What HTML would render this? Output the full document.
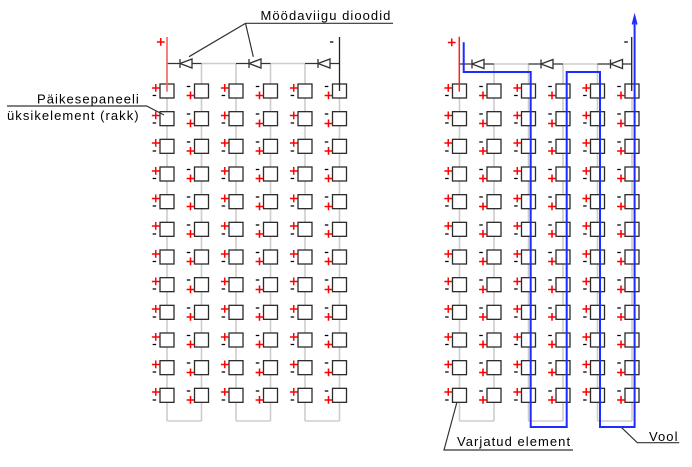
<!DOCTYPE html>
<html><head><meta charset="utf-8"><style>
html,body{margin:0;padding:0;background:#fff;}
svg{display:block;}
.g{stroke:#cdcdcd;stroke-width:1.6;fill:none;}
.k{stroke:#333;stroke-width:1.3;fill:none;}
.d{stroke:#333;stroke-width:1.3;fill:#fff;}
.row rect{fill:#fff;stroke:#2b2b2b;stroke-width:1.3;}
.p{fill:#ff0000;stroke:#ff0000;stroke-width:0.45;font-family:"Liberation Sans",Arial,sans-serif;font-size:15px;text-anchor:middle;}
.m{fill:#000;stroke:#000;stroke-width:0.3;font-family:"Liberation Sans",Arial,sans-serif;font-size:13px;text-anchor:middle;}
.lbl{fill:#000;font-family:"Liberation Sans",Arial,sans-serif;font-size:13px;letter-spacing:1.05px;}
.ld{stroke:#333;stroke-width:1.2;fill:none;}
</style></head><body>
<svg width="692" height="467" viewBox="0 0 692 467" xmlns="http://www.w3.org/2000/svg">
<!-- LEFT PANEL gray wiring -->
<line class="g" x1="167" y1="84" x2="167" y2="421"/>
<line class="g" x1="201.5" y1="63.5" x2="201.5" y2="421"/>
<line class="g" x1="236" y1="63.5" x2="236" y2="421"/>
<line class="g" x1="270.5" y1="63.5" x2="270.5" y2="421"/>
<line class="g" x1="305" y1="63.5" x2="305" y2="421"/>
<line class="g" x1="339.5" y1="84" x2="339.5" y2="421"/>
<line class="g" x1="201.5" y1="63.5" x2="236" y2="63.5"/>
<line class="g" x1="270.5" y1="63.5" x2="305" y2="63.5"/>
<line class="g" x1="167" y1="421" x2="201.5" y2="421"/>
<line class="g" x1="236" y1="421" x2="270.5" y2="421"/>
<line class="g" x1="305" y1="421" x2="339.5" y2="421"/>
<!-- RIGHT PANEL gray wiring -->
<line class="g" x1="459.5" y1="84" x2="459.5" y2="421"/>
<line class="g" x1="494" y1="64" x2="494" y2="421"/>
<line class="g" x1="528.5" y1="64" x2="528.5" y2="421"/>
<line class="g" x1="563" y1="64" x2="563" y2="421"/>
<line class="g" x1="597.5" y1="64" x2="597.5" y2="421"/>
<line class="g" x1="632" y1="84" x2="632" y2="421"/>
<line class="g" x1="494" y1="64" x2="528.5" y2="64"/>
<line class="g" x1="563" y1="64" x2="597.5" y2="64"/>
<line class="g" x1="459.5" y1="421" x2="494" y2="421"/>
<line class="g" x1="528.5" y1="421" x2="563" y2="421"/>
<line class="g" x1="597.5" y1="421" x2="632" y2="421"/>

<!-- Diodes left -->
<line class="k" x1="167" y1="63.5" x2="201.5" y2="63.5"/>
<line class="k" x1="236" y1="63.5" x2="270.5" y2="63.5"/>
<line class="k" x1="305" y1="63.5" x2="339.5" y2="63.5"/>
<polygon class="d" points="180,63.5 192,59 192,68"/><line class="k" x1="180" y1="59" x2="180" y2="68"/>
<polygon class="d" points="249,63.5 261,59 261,68"/><line class="k" x1="249" y1="59" x2="249" y2="68"/>
<polygon class="d" points="318,63.5 330,59 330,68"/><line class="k" x1="318" y1="59" x2="318" y2="68"/>
<!-- Diodes right -->
<line class="k" x1="459.5" y1="64" x2="494" y2="64"/>
<line class="k" x1="528.5" y1="64" x2="563" y2="64"/>
<line class="k" x1="597.5" y1="64" x2="632" y2="64"/>
<polygon class="d" points="472,64 484,59.5 484,68.5"/><line class="k" x1="472" y1="59.5" x2="472" y2="68.5"/>
<polygon class="d" points="541,64 553,59.5 553,68.5"/><line class="k" x1="541" y1="59.5" x2="541" y2="68.5"/>
<polygon class="d" points="610.5,64 622.5,59.5 622.5,68.5"/><line class="k" x1="610.5" y1="59.5" x2="610.5" y2="68.5"/>

<!-- Cells rows -->
<g class="row" transform="translate(0,84)">
<rect x="160" width="14" height="14"/><text class="p" x="155.7" y="8.8">+</text><text class="m" x="154.4" y="15">-</text>
<rect x="194.5" width="14" height="14"/><text class="m" x="188.5" y="6">-</text><text class="p" x="190.5" y="16.6">+</text>
<rect x="229" width="14" height="14"/><text class="p" x="224.7" y="8.8">+</text><text class="m" x="223.4" y="15">-</text>
<rect x="263.5" width="14" height="14"/><text class="m" x="257.5" y="6">-</text><text class="p" x="259.5" y="16.6">+</text>
<rect x="298" width="14" height="14"/><text class="p" x="293.7" y="8.8">+</text><text class="m" x="292.4" y="15">-</text>
<rect x="332.5" width="14" height="14"/><text class="m" x="326.5" y="6">-</text><text class="p" x="328.5" y="16.6">+</text>
<rect x="452.5" width="14" height="14"/><text class="p" x="448.2" y="8.8">+</text><text class="m" x="446.9" y="15">-</text>
<rect x="487" width="14" height="14"/><text class="m" x="481" y="6">-</text><text class="p" x="483" y="16.6">+</text>
<rect x="521.5" width="14" height="14"/><text class="p" x="517.2" y="8.8">+</text><text class="m" x="515.9" y="15">-</text>
<rect x="556" width="14" height="14"/><text class="m" x="550" y="6">-</text><text class="p" x="552" y="16.6">+</text>
<rect x="590.5" width="14" height="14"/><text class="p" x="586.2" y="8.8">+</text><text class="m" x="584.9" y="15">-</text>
<rect x="625" width="14" height="14"/><text class="m" x="619" y="6">-</text><text class="p" x="621" y="16.6">+</text>
</g>
<g class="row" transform="translate(0,111.67)">
<rect x="160" width="14" height="14"/><text class="p" x="155.7" y="8.8">+</text><text class="m" x="154.4" y="15">-</text>
<rect x="194.5" width="14" height="14"/><text class="m" x="188.5" y="6">-</text><text class="p" x="190.5" y="16.6">+</text>
<rect x="229" width="14" height="14"/><text class="p" x="224.7" y="8.8">+</text><text class="m" x="223.4" y="15">-</text>
<rect x="263.5" width="14" height="14"/><text class="m" x="257.5" y="6">-</text><text class="p" x="259.5" y="16.6">+</text>
<rect x="298" width="14" height="14"/><text class="p" x="293.7" y="8.8">+</text><text class="m" x="292.4" y="15">-</text>
<rect x="332.5" width="14" height="14"/><text class="m" x="326.5" y="6">-</text><text class="p" x="328.5" y="16.6">+</text>
<rect x="452.5" width="14" height="14"/><text class="p" x="448.2" y="8.8">+</text><text class="m" x="446.9" y="15">-</text>
<rect x="487" width="14" height="14"/><text class="m" x="481" y="6">-</text><text class="p" x="483" y="16.6">+</text>
<rect x="521.5" width="14" height="14"/><text class="p" x="517.2" y="8.8">+</text><text class="m" x="515.9" y="15">-</text>
<rect x="556" width="14" height="14"/><text class="m" x="550" y="6">-</text><text class="p" x="552" y="16.6">+</text>
<rect x="590.5" width="14" height="14"/><text class="p" x="586.2" y="8.8">+</text><text class="m" x="584.9" y="15">-</text>
<rect x="625" width="14" height="14"/><text class="m" x="619" y="6">-</text><text class="p" x="621" y="16.6">+</text>
</g>
<g class="row" transform="translate(0,139.33)">
<rect x="160" width="14" height="14"/><text class="p" x="155.7" y="8.8">+</text><text class="m" x="154.4" y="15">-</text>
<rect x="194.5" width="14" height="14"/><text class="m" x="188.5" y="6">-</text><text class="p" x="190.5" y="16.6">+</text>
<rect x="229" width="14" height="14"/><text class="p" x="224.7" y="8.8">+</text><text class="m" x="223.4" y="15">-</text>
<rect x="263.5" width="14" height="14"/><text class="m" x="257.5" y="6">-</text><text class="p" x="259.5" y="16.6">+</text>
<rect x="298" width="14" height="14"/><text class="p" x="293.7" y="8.8">+</text><text class="m" x="292.4" y="15">-</text>
<rect x="332.5" width="14" height="14"/><text class="m" x="326.5" y="6">-</text><text class="p" x="328.5" y="16.6">+</text>
<rect x="452.5" width="14" height="14"/><text class="p" x="448.2" y="8.8">+</text><text class="m" x="446.9" y="15">-</text>
<rect x="487" width="14" height="14"/><text class="m" x="481" y="6">-</text><text class="p" x="483" y="16.6">+</text>
<rect x="521.5" width="14" height="14"/><text class="p" x="517.2" y="8.8">+</text><text class="m" x="515.9" y="15">-</text>
<rect x="556" width="14" height="14"/><text class="m" x="550" y="6">-</text><text class="p" x="552" y="16.6">+</text>
<rect x="590.5" width="14" height="14"/><text class="p" x="586.2" y="8.8">+</text><text class="m" x="584.9" y="15">-</text>
<rect x="625" width="14" height="14"/><text class="m" x="619" y="6">-</text><text class="p" x="621" y="16.6">+</text>
</g>
<g class="row" transform="translate(0,167)">
<rect x="160" width="14" height="14"/><text class="p" x="155.7" y="8.8">+</text><text class="m" x="154.4" y="15">-</text>
<rect x="194.5" width="14" height="14"/><text class="m" x="188.5" y="6">-</text><text class="p" x="190.5" y="16.6">+</text>
<rect x="229" width="14" height="14"/><text class="p" x="224.7" y="8.8">+</text><text class="m" x="223.4" y="15">-</text>
<rect x="263.5" width="14" height="14"/><text class="m" x="257.5" y="6">-</text><text class="p" x="259.5" y="16.6">+</text>
<rect x="298" width="14" height="14"/><text class="p" x="293.7" y="8.8">+</text><text class="m" x="292.4" y="15">-</text>
<rect x="332.5" width="14" height="14"/><text class="m" x="326.5" y="6">-</text><text class="p" x="328.5" y="16.6">+</text>
<rect x="452.5" width="14" height="14"/><text class="p" x="448.2" y="8.8">+</text><text class="m" x="446.9" y="15">-</text>
<rect x="487" width="14" height="14"/><text class="m" x="481" y="6">-</text><text class="p" x="483" y="16.6">+</text>
<rect x="521.5" width="14" height="14"/><text class="p" x="517.2" y="8.8">+</text><text class="m" x="515.9" y="15">-</text>
<rect x="556" width="14" height="14"/><text class="m" x="550" y="6">-</text><text class="p" x="552" y="16.6">+</text>
<rect x="590.5" width="14" height="14"/><text class="p" x="586.2" y="8.8">+</text><text class="m" x="584.9" y="15">-</text>
<rect x="625" width="14" height="14"/><text class="m" x="619" y="6">-</text><text class="p" x="621" y="16.6">+</text>
</g>
<g class="row" transform="translate(0,194.67)">
<rect x="160" width="14" height="14"/><text class="p" x="155.7" y="8.8">+</text><text class="m" x="154.4" y="15">-</text>
<rect x="194.5" width="14" height="14"/><text class="m" x="188.5" y="6">-</text><text class="p" x="190.5" y="16.6">+</text>
<rect x="229" width="14" height="14"/><text class="p" x="224.7" y="8.8">+</text><text class="m" x="223.4" y="15">-</text>
<rect x="263.5" width="14" height="14"/><text class="m" x="257.5" y="6">-</text><text class="p" x="259.5" y="16.6">+</text>
<rect x="298" width="14" height="14"/><text class="p" x="293.7" y="8.8">+</text><text class="m" x="292.4" y="15">-</text>
<rect x="332.5" width="14" height="14"/><text class="m" x="326.5" y="6">-</text><text class="p" x="328.5" y="16.6">+</text>
<rect x="452.5" width="14" height="14"/><text class="p" x="448.2" y="8.8">+</text><text class="m" x="446.9" y="15">-</text>
<rect x="487" width="14" height="14"/><text class="m" x="481" y="6">-</text><text class="p" x="483" y="16.6">+</text>
<rect x="521.5" width="14" height="14"/><text class="p" x="517.2" y="8.8">+</text><text class="m" x="515.9" y="15">-</text>
<rect x="556" width="14" height="14"/><text class="m" x="550" y="6">-</text><text class="p" x="552" y="16.6">+</text>
<rect x="590.5" width="14" height="14"/><text class="p" x="586.2" y="8.8">+</text><text class="m" x="584.9" y="15">-</text>
<rect x="625" width="14" height="14"/><text class="m" x="619" y="6">-</text><text class="p" x="621" y="16.6">+</text>
</g>
<g class="row" transform="translate(0,222.33)">
<rect x="160" width="14" height="14"/><text class="p" x="155.7" y="8.8">+</text><text class="m" x="154.4" y="15">-</text>
<rect x="194.5" width="14" height="14"/><text class="m" x="188.5" y="6">-</text><text class="p" x="190.5" y="16.6">+</text>
<rect x="229" width="14" height="14"/><text class="p" x="224.7" y="8.8">+</text><text class="m" x="223.4" y="15">-</text>
<rect x="263.5" width="14" height="14"/><text class="m" x="257.5" y="6">-</text><text class="p" x="259.5" y="16.6">+</text>
<rect x="298" width="14" height="14"/><text class="p" x="293.7" y="8.8">+</text><text class="m" x="292.4" y="15">-</text>
<rect x="332.5" width="14" height="14"/><text class="m" x="326.5" y="6">-</text><text class="p" x="328.5" y="16.6">+</text>
<rect x="452.5" width="14" height="14"/><text class="p" x="448.2" y="8.8">+</text><text class="m" x="446.9" y="15">-</text>
<rect x="487" width="14" height="14"/><text class="m" x="481" y="6">-</text><text class="p" x="483" y="16.6">+</text>
<rect x="521.5" width="14" height="14"/><text class="p" x="517.2" y="8.8">+</text><text class="m" x="515.9" y="15">-</text>
<rect x="556" width="14" height="14"/><text class="m" x="550" y="6">-</text><text class="p" x="552" y="16.6">+</text>
<rect x="590.5" width="14" height="14"/><text class="p" x="586.2" y="8.8">+</text><text class="m" x="584.9" y="15">-</text>
<rect x="625" width="14" height="14"/><text class="m" x="619" y="6">-</text><text class="p" x="621" y="16.6">+</text>
</g>
<g class="row" transform="translate(0,250)">
<rect x="160" width="14" height="14"/><text class="p" x="155.7" y="8.8">+</text><text class="m" x="154.4" y="15">-</text>
<rect x="194.5" width="14" height="14"/><text class="m" x="188.5" y="6">-</text><text class="p" x="190.5" y="16.6">+</text>
<rect x="229" width="14" height="14"/><text class="p" x="224.7" y="8.8">+</text><text class="m" x="223.4" y="15">-</text>
<rect x="263.5" width="14" height="14"/><text class="m" x="257.5" y="6">-</text><text class="p" x="259.5" y="16.6">+</text>
<rect x="298" width="14" height="14"/><text class="p" x="293.7" y="8.8">+</text><text class="m" x="292.4" y="15">-</text>
<rect x="332.5" width="14" height="14"/><text class="m" x="326.5" y="6">-</text><text class="p" x="328.5" y="16.6">+</text>
<rect x="452.5" width="14" height="14"/><text class="p" x="448.2" y="8.8">+</text><text class="m" x="446.9" y="15">-</text>
<rect x="487" width="14" height="14"/><text class="m" x="481" y="6">-</text><text class="p" x="483" y="16.6">+</text>
<rect x="521.5" width="14" height="14"/><text class="p" x="517.2" y="8.8">+</text><text class="m" x="515.9" y="15">-</text>
<rect x="556" width="14" height="14"/><text class="m" x="550" y="6">-</text><text class="p" x="552" y="16.6">+</text>
<rect x="590.5" width="14" height="14"/><text class="p" x="586.2" y="8.8">+</text><text class="m" x="584.9" y="15">-</text>
<rect x="625" width="14" height="14"/><text class="m" x="619" y="6">-</text><text class="p" x="621" y="16.6">+</text>
</g>
<g class="row" transform="translate(0,277.67)">
<rect x="160" width="14" height="14"/><text class="p" x="155.7" y="8.8">+</text><text class="m" x="154.4" y="15">-</text>
<rect x="194.5" width="14" height="14"/><text class="m" x="188.5" y="6">-</text><text class="p" x="190.5" y="16.6">+</text>
<rect x="229" width="14" height="14"/><text class="p" x="224.7" y="8.8">+</text><text class="m" x="223.4" y="15">-</text>
<rect x="263.5" width="14" height="14"/><text class="m" x="257.5" y="6">-</text><text class="p" x="259.5" y="16.6">+</text>
<rect x="298" width="14" height="14"/><text class="p" x="293.7" y="8.8">+</text><text class="m" x="292.4" y="15">-</text>
<rect x="332.5" width="14" height="14"/><text class="m" x="326.5" y="6">-</text><text class="p" x="328.5" y="16.6">+</text>
<rect x="452.5" width="14" height="14"/><text class="p" x="448.2" y="8.8">+</text><text class="m" x="446.9" y="15">-</text>
<rect x="487" width="14" height="14"/><text class="m" x="481" y="6">-</text><text class="p" x="483" y="16.6">+</text>
<rect x="521.5" width="14" height="14"/><text class="p" x="517.2" y="8.8">+</text><text class="m" x="515.9" y="15">-</text>
<rect x="556" width="14" height="14"/><text class="m" x="550" y="6">-</text><text class="p" x="552" y="16.6">+</text>
<rect x="590.5" width="14" height="14"/><text class="p" x="586.2" y="8.8">+</text><text class="m" x="584.9" y="15">-</text>
<rect x="625" width="14" height="14"/><text class="m" x="619" y="6">-</text><text class="p" x="621" y="16.6">+</text>
</g>
<g class="row" transform="translate(0,305.33)">
<rect x="160" width="14" height="14"/><text class="p" x="155.7" y="8.8">+</text><text class="m" x="154.4" y="15">-</text>
<rect x="194.5" width="14" height="14"/><text class="m" x="188.5" y="6">-</text><text class="p" x="190.5" y="16.6">+</text>
<rect x="229" width="14" height="14"/><text class="p" x="224.7" y="8.8">+</text><text class="m" x="223.4" y="15">-</text>
<rect x="263.5" width="14" height="14"/><text class="m" x="257.5" y="6">-</text><text class="p" x="259.5" y="16.6">+</text>
<rect x="298" width="14" height="14"/><text class="p" x="293.7" y="8.8">+</text><text class="m" x="292.4" y="15">-</text>
<rect x="332.5" width="14" height="14"/><text class="m" x="326.5" y="6">-</text><text class="p" x="328.5" y="16.6">+</text>
<rect x="452.5" width="14" height="14"/><text class="p" x="448.2" y="8.8">+</text><text class="m" x="446.9" y="15">-</text>
<rect x="487" width="14" height="14"/><text class="m" x="481" y="6">-</text><text class="p" x="483" y="16.6">+</text>
<rect x="521.5" width="14" height="14"/><text class="p" x="517.2" y="8.8">+</text><text class="m" x="515.9" y="15">-</text>
<rect x="556" width="14" height="14"/><text class="m" x="550" y="6">-</text><text class="p" x="552" y="16.6">+</text>
<rect x="590.5" width="14" height="14"/><text class="p" x="586.2" y="8.8">+</text><text class="m" x="584.9" y="15">-</text>
<rect x="625" width="14" height="14"/><text class="m" x="619" y="6">-</text><text class="p" x="621" y="16.6">+</text>
</g>
<g class="row" transform="translate(0,333)">
<rect x="160" width="14" height="14"/><text class="p" x="155.7" y="8.8">+</text><text class="m" x="154.4" y="15">-</text>
<rect x="194.5" width="14" height="14"/><text class="m" x="188.5" y="6">-</text><text class="p" x="190.5" y="16.6">+</text>
<rect x="229" width="14" height="14"/><text class="p" x="224.7" y="8.8">+</text><text class="m" x="223.4" y="15">-</text>
<rect x="263.5" width="14" height="14"/><text class="m" x="257.5" y="6">-</text><text class="p" x="259.5" y="16.6">+</text>
<rect x="298" width="14" height="14"/><text class="p" x="293.7" y="8.8">+</text><text class="m" x="292.4" y="15">-</text>
<rect x="332.5" width="14" height="14"/><text class="m" x="326.5" y="6">-</text><text class="p" x="328.5" y="16.6">+</text>
<rect x="452.5" width="14" height="14"/><text class="p" x="448.2" y="8.8">+</text><text class="m" x="446.9" y="15">-</text>
<rect x="487" width="14" height="14"/><text class="m" x="481" y="6">-</text><text class="p" x="483" y="16.6">+</text>
<rect x="521.5" width="14" height="14"/><text class="p" x="517.2" y="8.8">+</text><text class="m" x="515.9" y="15">-</text>
<rect x="556" width="14" height="14"/><text class="m" x="550" y="6">-</text><text class="p" x="552" y="16.6">+</text>
<rect x="590.5" width="14" height="14"/><text class="p" x="586.2" y="8.8">+</text><text class="m" x="584.9" y="15">-</text>
<rect x="625" width="14" height="14"/><text class="m" x="619" y="6">-</text><text class="p" x="621" y="16.6">+</text>
</g>
<g class="row" transform="translate(0,360.67)">
<rect x="160" width="14" height="14"/><text class="p" x="155.7" y="8.8">+</text><text class="m" x="154.4" y="15">-</text>
<rect x="194.5" width="14" height="14"/><text class="m" x="188.5" y="6">-</text><text class="p" x="190.5" y="16.6">+</text>
<rect x="229" width="14" height="14"/><text class="p" x="224.7" y="8.8">+</text><text class="m" x="223.4" y="15">-</text>
<rect x="263.5" width="14" height="14"/><text class="m" x="257.5" y="6">-</text><text class="p" x="259.5" y="16.6">+</text>
<rect x="298" width="14" height="14"/><text class="p" x="293.7" y="8.8">+</text><text class="m" x="292.4" y="15">-</text>
<rect x="332.5" width="14" height="14"/><text class="m" x="326.5" y="6">-</text><text class="p" x="328.5" y="16.6">+</text>
<rect x="452.5" width="14" height="14"/><text class="p" x="448.2" y="8.8">+</text><text class="m" x="446.9" y="15">-</text>
<rect x="487" width="14" height="14"/><text class="m" x="481" y="6">-</text><text class="p" x="483" y="16.6">+</text>
<rect x="521.5" width="14" height="14"/><text class="p" x="517.2" y="8.8">+</text><text class="m" x="515.9" y="15">-</text>
<rect x="556" width="14" height="14"/><text class="m" x="550" y="6">-</text><text class="p" x="552" y="16.6">+</text>
<rect x="590.5" width="14" height="14"/><text class="p" x="586.2" y="8.8">+</text><text class="m" x="584.9" y="15">-</text>
<rect x="625" width="14" height="14"/><text class="m" x="619" y="6">-</text><text class="p" x="621" y="16.6">+</text>
</g>
<g class="row" transform="translate(0,388.33)">
<rect x="160" width="14" height="14"/><text class="p" x="155.7" y="8.8">+</text><text class="m" x="154.4" y="15">-</text>
<rect x="194.5" width="14" height="14"/><text class="m" x="188.5" y="6">-</text><text class="p" x="190.5" y="16.6">+</text>
<rect x="229" width="14" height="14"/><text class="p" x="224.7" y="8.8">+</text><text class="m" x="223.4" y="15">-</text>
<rect x="263.5" width="14" height="14"/><text class="m" x="257.5" y="6">-</text><text class="p" x="259.5" y="16.6">+</text>
<rect x="298" width="14" height="14"/><text class="p" x="293.7" y="8.8">+</text><text class="m" x="292.4" y="15">-</text>
<rect x="332.5" width="14" height="14"/><text class="m" x="326.5" y="6">-</text><text class="p" x="328.5" y="16.6">+</text>
<rect x="452.5" width="14" height="14"/><text class="p" x="448.2" y="8.8">+</text><text class="m" x="446.9" y="15">-</text>
<rect x="487" width="14" height="14"/><text class="m" x="481" y="6">-</text><text class="p" x="483" y="16.6">+</text>
<rect x="521.5" width="14" height="14"/><text class="p" x="517.2" y="8.8">+</text><text class="m" x="515.9" y="15">-</text>
<rect x="556" width="14" height="14"/><text class="m" x="550" y="6">-</text><text class="p" x="552" y="16.6">+</text>
<rect x="590.5" width="14" height="14"/><text class="p" x="586.2" y="8.8">+</text><text class="m" x="584.9" y="15">-</text>
<rect x="625" width="14" height="14"/><text class="m" x="619" y="6">-</text><text class="p" x="621" y="16.6">+</text>
</g>

<!-- terminal leads -->
<line x1="167" y1="37" x2="167" y2="91.7" stroke="#f06262" stroke-width="1.6"/>
<line x1="339.5" y1="37" x2="339.5" y2="91" stroke="#222" stroke-width="1.3"/>
<text class="p" x="160.7" y="47">+</text>
<text class="m" x="331.7" y="45.6">-</text>
<line x1="459.3" y1="36.7" x2="459.3" y2="91.7" stroke="#ff2020" stroke-width="1.5"/>
<line x1="631.7" y1="37" x2="631.7" y2="91" stroke="#222" stroke-width="1.3"/>
<text class="p" x="451.7" y="47.3">+</text>
<text class="m" x="626" y="45.6">-</text>

<!-- current path -->
<polyline points="463.7,42.3 463.7,72 530.7,72 530.7,427 566.7,427 566.7,72 600,72 600,427 634.6,427 634.6,16.5" fill="none" stroke="#1f2bff" stroke-width="2"/>
<polyline points="632.4,24.5 634.6,16 636.8,24.5" fill="none" stroke="#1f2bff" stroke-width="1.6"/>

<!-- labels -->
<polyline class="ld" points="189,56.7 245.5,23.3 393,23.3"/>
<line class="ld" x1="245.5" y1="23.3" x2="253.3" y2="56.7"/>
<text class="lbl" x="260.5" y="20">Möödaviigu dioodid</text>

<polyline class="ld" points="7,106 146.7,106 164,115"/>
<text class="lbl" x="37" y="103.3">Päikesepaneeli</text>
<text class="lbl" x="7" y="120">üksikelement (rakk)</text>

<polyline class="ld" points="456.7,403 444,450 573,450"/>
<text class="lbl" x="457" y="446">Varjatud element</text>

<polyline class="ld" points="621.7,427.7 637.3,442.7 679.3,442.7"/>
<text class="lbl" x="649" y="441">Vool</text>
</svg>
</body></html>
